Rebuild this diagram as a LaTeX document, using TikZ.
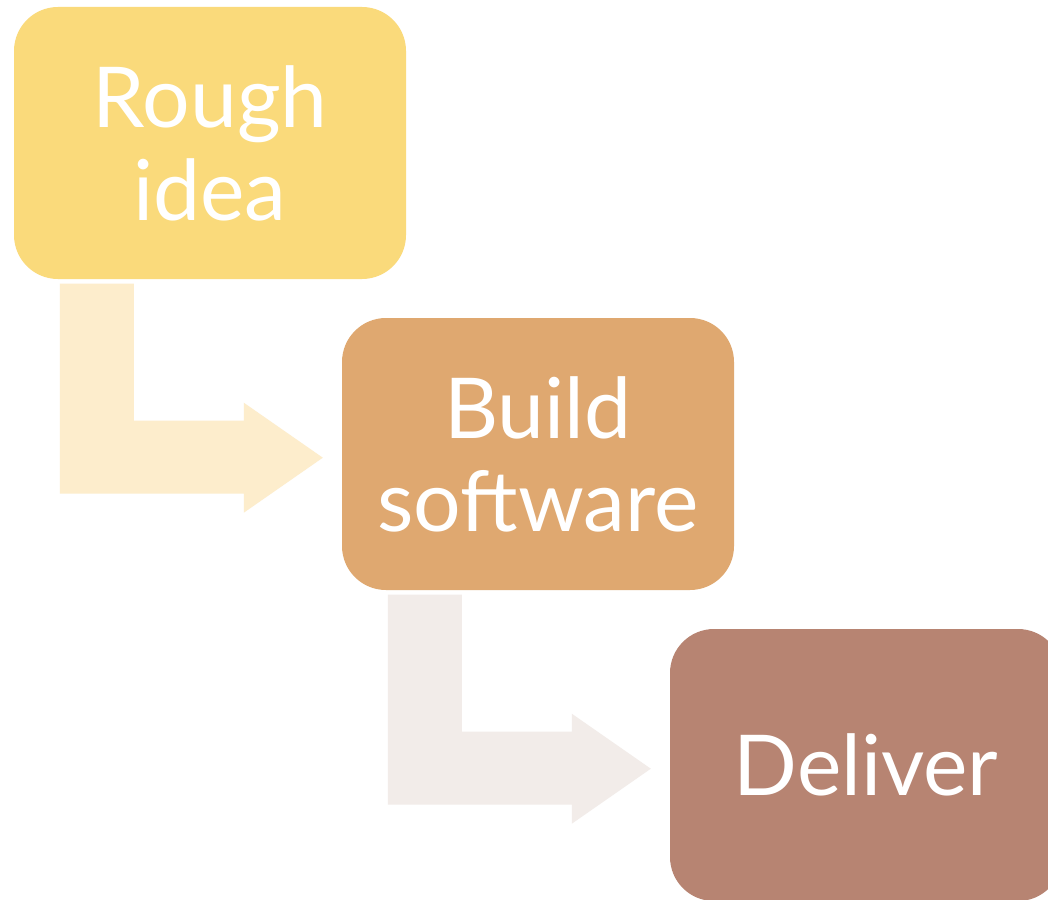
\documentclass[tikz,border=0pt]{standalone}
\usepackage{fontspec}
\setmainfont{Lato}
\usetikzlibrary{calc}
\definecolor{boxA}{HTML}{FADA7B}
\definecolor{boxB}{HTML}{DFA870}
\definecolor{boxC}{HTML}{B78472}
\definecolor{arrA}{HTML}{FDEDCC}
\definecolor{arrB}{HTML}{F2ECE9}
\tikzset{
  stagebox/.style={rounded corners=44pt, minimum width=392pt, minimum height=272pt,
    inner sep=0pt, text=white, align=center,
    font=\fontsize{84}{93}\selectfont},
  bentarrow/.style={draw=none}
}
\begin{document}
\begin{tikzpicture}[x=1pt,y=-1pt]
\clip (0,0) rectangle (1048,899);
\fill[white] (0,0) rectangle (1048,899);
\node[stagebox, fill=boxA] (b1) at (210,143) {Rough\\idea};
\node[stagebox, fill=boxB] (b2) at (538,454) {Build\\software};
\node[stagebox, fill=boxC] (b3) at (866,765) {Deliver};
\fill[arrA] ($(b1.south west)+(46,4.5)$) -- ++(74,0) -- ++(0,137) -- ++(110,0)
  -- ++(0,-18) -- ++(79,55) -- ++(-79,55) -- ++(0,-19) -- ++(-184,0) -- cycle;
\fill[arrB] ($(b2.south west)+(46,4.5)$) -- ++(74,0) -- ++(0,137) -- ++(110,0)
  -- ++(0,-18) -- ++(79,55) -- ++(-79,55) -- ++(0,-19) -- ++(-184,0) -- cycle;
\end{tikzpicture}
\end{document}
